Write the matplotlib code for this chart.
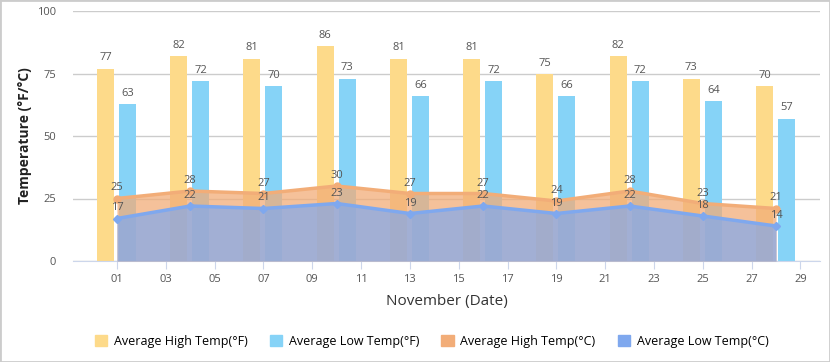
import matplotlib.pyplot as plt
from matplotlib.patches import Patch
import numpy as np

days = [1, 4, 7, 10, 13, 16, 19, 22, 25, 28]
high_f = [77, 82, 81, 86, 81, 81, 75, 82, 73, 70]
low_f = [63, 72, 70, 73, 66, 72, 66, 72, 64, 57]
high_c = [25, 28, 27, 30, 27, 27, 24, 28, 23, 21]
low_c = [17, 22, 21, 23, 19, 22, 19, 22, 18, 14]
tick_days = list(range(1, 30, 2))

c_hf = "#fdda8a"
c_lf = "#86d3f7"
c_hc = "#f2ad78"
c_lc = "#7fa8ee"
txt = "#555555"

plt.rcParams["font.family"] = ["Open Sans", "DejaVu Sans"]

fig = plt.figure(figsize=(8.3, 3.62), dpi=100)
ax = fig.add_axes([73 / 830, 1 - 261 / 362, (820 - 73) / 830, 250 / 362])

d = np.array(days)
bw = 0.7
ax.bar(d - 0.47, high_f, width=bw, color=c_hf, zorder=2)
ax.bar(d + 0.43, low_f, width=bw, color=c_lf, zorder=2)
for x, v in zip(d - 0.47, high_f):
    ax.text(x, v + 2, str(v), ha="center", va="bottom", fontsize=8, color=txt)
for x, v in zip(d + 0.43, low_f):
    ax.text(x, v + 2, str(v), ha="center", va="bottom", fontsize=8, color=txt)

# celsius areas
ax.fill_between(d, 0, high_c, color=c_hc, alpha=0.75, lw=0, zorder=3)
ax.plot(d, high_c, color=c_hc, lw=2.5, marker="o", ms=5, zorder=4)
ax.fill_between(d, 0, low_c, color=c_lc, alpha=0.7, lw=0, zorder=5)
ax.plot(d, low_c, color=c_lc, lw=2.5, marker="D", ms=4, zorder=6)
for x, v in zip(d, high_c):
    ax.text(x, v + 2, str(v), ha="center", va="bottom", fontsize=8, color=txt, zorder=7)
for x, v in zip(d, low_c):
    ax.text(x, v + 2, str(v), ha="center", va="bottom", fontsize=8, color=txt, zorder=7)

ax.set_xlim(-0.8, 29.8)
ax.set_ylim(0, 100)
ax.set_yticks([0, 25, 50, 75, 100])
ax.set_xticks(tick_days)
ax.set_xticklabels([f"{t:02d}" for t in tick_days])
ax.grid(axis="y", color="#cccccc", lw=1, zorder=0)
for s in ["top", "right", "left"]:
    ax.spines[s].set_visible(False)
ax.spines["bottom"].set_color("#ccd6eb")
ax.tick_params(axis="y", length=0, pad=12, labelsize=8, colors=txt)
ax.tick_params(axis="x", length=6, color="#ccd6eb", labelsize=8, colors=txt)

ax.set_ylabel("Temperature (°F/°C)", fontsize=10, fontweight="bold", color="#222222")
ax.set_xlabel("November (Date)", fontsize=11, color="#333333", labelpad=6)

handles = [Patch(color=c_hf), Patch(color=c_lf), Patch(color=c_hc), Patch(color=c_lc)]
labels = ["Average High Temp(°F)", "Average Low Temp(°F)",
          "Average High Temp(°C)", "Average Low Temp(°C)"]
fig.legend(handles, labels, loc="center", bbox_to_anchor=(0.52, 1 - 341 / 362), ncol=4,
           frameon=False, fontsize=9, handlelength=1, handleheight=1, columnspacing=1.8,
           handletextpad=0.5)

fig.patches.append(plt.Rectangle((0, 0), 1, 1, transform=fig.transFigure,
                                 fill=False, edgecolor="#cccccc", lw=2))

fig.savefig("out.png", dpi=100)
